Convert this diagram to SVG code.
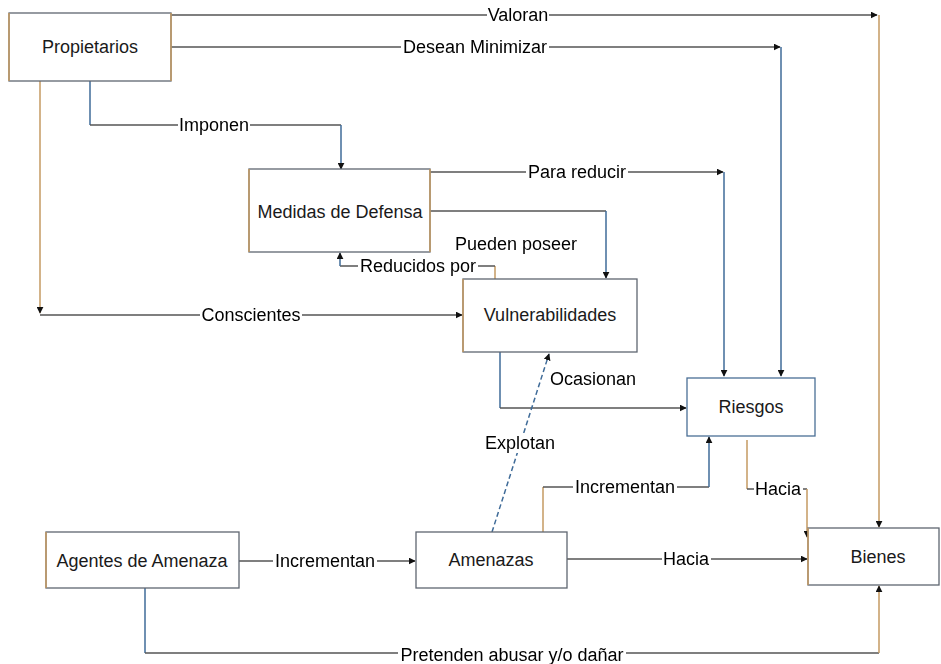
<svg xmlns="http://www.w3.org/2000/svg" width="941" height="664" viewBox="0 0 941 664">
<style>
.box{fill:#fff;stroke:#5f6670;stroke-width:1.3}
.tan{stroke:#c49a62;stroke-width:1.5;fill:none}
.gry{stroke:#555;stroke-width:1.4;fill:none}
.blu{stroke:#3f6b98;stroke-width:1.5;fill:none}
.dash{stroke-dasharray:5 3}
text{font-family:"Liberation Sans",Arial,sans-serif;font-size:18px;fill:#1a1a1a;text-anchor:middle;dominant-baseline:central}
.lbl{filter:url(#bg);fill:#000}
</style>
<defs>
<marker id="ah" viewBox="0 0 10 10" refX="9" refY="5" markerWidth="7" markerHeight="7" markerUnits="userSpaceOnUse" orient="auto">
<path d="M0,0L10,5L0,10z" fill="#111"/>
</marker>
<filter id="bg" x="-0.01" y="0" width="1.02" height="1" color-interpolation-filters="sRGB">
<feFlood flood-color="#fff"/>
<feComposite in="SourceGraphic"/>
</filter>
</defs>
<rect width="941" height="664" fill="#fff"/>
<g id="connectors">
<path class="gry" d="M163,15H877" marker-end="url(#ah)"/>
<path class="tan" d="M879,15V527" marker-end="url(#ah)"/>
<path class="gry" d="M171,47H780" marker-end="url(#ah)"/>
<path class="blu" d="M781,47V376" marker-end="url(#ah)"/>
<path class="blu" d="M90,81V125"/>
<path class="gry" d="M90,125H341"/>
<path class="blu" d="M341,125V169" marker-end="url(#ah)"/>
<path class="gry" d="M430,172H723" marker-end="url(#ah)"/>
<path class="blu" d="M724,172V376" marker-end="url(#ah)"/>
<path class="gry" d="M430,211H606"/>
<path class="blu" d="M606,211V278" marker-end="url(#ah)"/>
<path class="tan" d="M495,280V266"/>
<path class="gry" d="M495,266H340"/>
<path class="blu" d="M340,266V253" marker-end="url(#ah)"/>
<path class="tan" d="M40,63V313" marker-end="url(#ah)"/>
<path class="gry" d="M40,315H462" marker-end="url(#ah)"/>
<path class="blu" d="M500,352V408"/>
<path class="gry" d="M500,408H686" marker-end="url(#ah)"/>
<path class="blu dash" d="M492,532L549,354" marker-end="url(#ah)"/>
<path class="tan" d="M543,532V487"/>
<path class="gry" d="M543,487H709"/>
<path class="blu" d="M709,487V437" marker-end="url(#ah)"/>
<path class="tan" d="M747,440V489"/>
<path class="gry" d="M747,489H807"/>
<path class="tan" d="M807,489V537" marker-end="url(#ah)"/>
<path class="gry" d="M567,559H807" marker-end="url(#ah)"/>
<path class="gry" d="M239,561H415" marker-end="url(#ah)"/>
<path class="blu" d="M145,588V653"/>
<path class="gry" d="M145,653H879"/>
<path class="tan" d="M879,653V586" marker-end="url(#ah)"/>
<text class="lbl" x="518" y="15">Valoran</text>
<text class="lbl" x="475" y="47">Desean Minimizar</text>
<text class="lbl" x="214" y="125">Imponen</text>
<text class="lbl" x="577" y="172">Para reducir</text>
<text class="lbl" x="516" y="244">Pueden poseer</text>
<text class="lbl" x="418" y="266">Reducidos por</text>
<text class="lbl" x="251" y="315">Conscientes</text>
<text class="lbl" x="593" y="379">Ocasionan</text>
<text class="lbl" x="520" y="443">Explotan</text>
<text class="lbl" x="625" y="487">Incrementan</text>
<text class="lbl" x="778" y="489">Hacia</text>
<text class="lbl" x="686" y="559">Hacia</text>
<text class="lbl" x="325" y="561">Incrementan</text>
<text class="lbl" x="512" y="655">Pretenden abusar y/o dañar</text>
</g>
<g id="propietarios">
<rect class="box" x="9" y="13" width="162" height="68"/>
<path class="tan" d="M9,13V81M171,13V81"/>
<text x="90" y="47">Propietarios</text>
</g>
<g id="medidas">
<rect class="box" x="249" y="169" width="181" height="83"/>
<path class="tan" d="M249,169V252M430,169V252"/>
<text x="340" y="212">Medidas de Defensa</text>
</g>
<g id="vulnerabilidades">
<rect class="box" x="463" y="279" width="174" height="73"/>
<path class="tan" d="M463,279V352"/>
<text x="550" y="315">Vulnerabilidades</text>
</g>
<g id="riesgos">
<rect class="box" x="687" y="378" width="128" height="58" style="stroke:#4a6f96"/>
<text x="751" y="407">Riesgos</text>
</g>
<g id="agentes">
<rect class="box" x="46" y="532" width="193" height="56"/>
<path class="tan" d="M46,532V588"/>
<text x="142" y="561">Agentes de Amenaza</text>
</g>
<g id="amenazas">
<rect class="box" x="416" y="532" width="151" height="56"/>
<text x="491" y="560">Amenazas</text>
</g>
<g id="bienes">
<rect class="box" x="808" y="528" width="131" height="57"/>
<path class="tan" d="M808,528V585"/>
<text x="878" y="557">Bienes</text>
</g>
</svg>
